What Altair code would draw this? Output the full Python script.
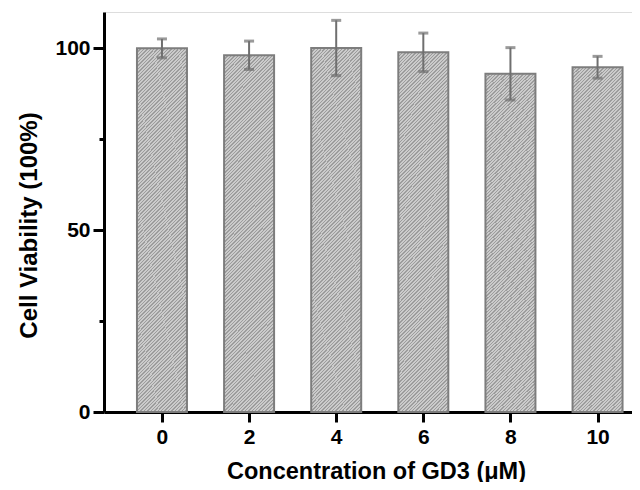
import altair as alt
import pandas as pd

# data
concentration = [0, 2, 4, 6, 8, 10]
viability = [100.0, 98.1, 100.1, 98.9, 93.0, 94.8]
sd = [2.6, 3.9, 7.6, 5.3, 7.2, 3.0]
x_ticks = [0, 2, 4, 6, 8, 10]
y_ticks = [0, 25, 50, 75, 100]

df = pd.DataFrame({"conc": concentration, "viab": viability, "sd": sd})
df["lo"] = df["viab"] - df["sd"]
df["hi"] = df["viab"] + df["sd"]

# diagonal hatch built as a striped linear gradient (bounding-box units)
n_stripes = 118
dark, light = "#9c9c9c", "#cbcbcb"
stops = []
for i in range(n_stripes):
    t0 = i / n_stripes
    t1 = (i + 0.42) / n_stripes
    t2 = (i + 1) / n_stripes
    stops += [
        {"offset": t0, "color": dark},
        {"offset": t1, "color": dark},
        {"offset": t1, "color": light},
        {"offset": t2, "color": light},
    ]
r = 50 / 355
c = (r + 1) / (r * r + 1)
hatch = {"gradient": "linear", "x1": 0, "y1": 0, "x2": c * r, "y2": c, "stops": stops}

FONT = "Liberation Sans"

x_enc = alt.X(
    "conc:Q",
    scale=alt.Scale(domain=[-1.216, 10.676], nice=False, zero=False),
    axis=alt.Axis(
        values=x_ticks,
        title="Concentration of GD3 (\u03bcM)",
        grid=False,
        domainColor="black",
        domainWidth=3,
        tickColor="black",
        tickWidth=3,
        tickSize=10,
        labelPadding=4,
        labelFont=FONT,
        labelFontSize=21,
        labelFontWeight="bold",
        labelColor="black",
        titleFont=FONT,
        titleFontSize=23.5,
        titleFontWeight="bold",
        titleColor="black",
        titleX=272,
        titleY=66,
        titleAlign="center",
        titleBaseline="alphabetic",
    ),
)

y_axis = alt.Axis(
    values=y_ticks,
    labelExpr="datum.value % 50 === 0 ? datum.label : ''",
    title="Cell Viability (100%)",
    grid=False,
    domainColor="black",
    domainWidth=3,
    tickColor="black",
    tickWidth=3,
    tickSize={"condition": {"test": "datum.value % 50 === 0", "value": 11}, "value": 5},
    labelPadding=3,
    labelFont=FONT,
    labelFontSize=21,
    labelFontWeight="bold",
    labelColor="black",
    titleFont=FONT,
    titleFontSize=24,
    titleFontWeight="bold",
    titleColor="black",
    titleX=-75,
    titleY=213,
    titleAlign="center",
    titleBaseline="middle",
)

y_scale = alt.Scale(domain=[0, 110], nice=False)

bars = alt.Chart(df).mark_bar(
    size=50, fill=hatch, stroke="#7d7d7d", strokeWidth=2
).encode(
    x=x_enc,
    y=alt.Y("viab:Q", scale=y_scale, axis=y_axis),
)

errs = alt.Chart(df).mark_errorbar(
    color="#6f6f6f",
    thickness=2,
    ticks={"size": 10, "thickness": 3, "color": "#6f6f6f"},
).encode(
    x=alt.X("conc:Q"),
    y=alt.Y("lo:Q", scale=y_scale, axis=y_axis),
    y2="hi:Q",
)

chart = alt.layer(bars, errs).properties(
    width=528,
    height=400,
    autosize=alt.AutoSizeParams(type="none"),
    padding={"left": 96, "top": 4, "right": 0, "bottom": 70},
).configure_view(stroke=None).configure(background="white")

chart.save("out.html", embed_options={"renderer": "svg", "actions": False})
